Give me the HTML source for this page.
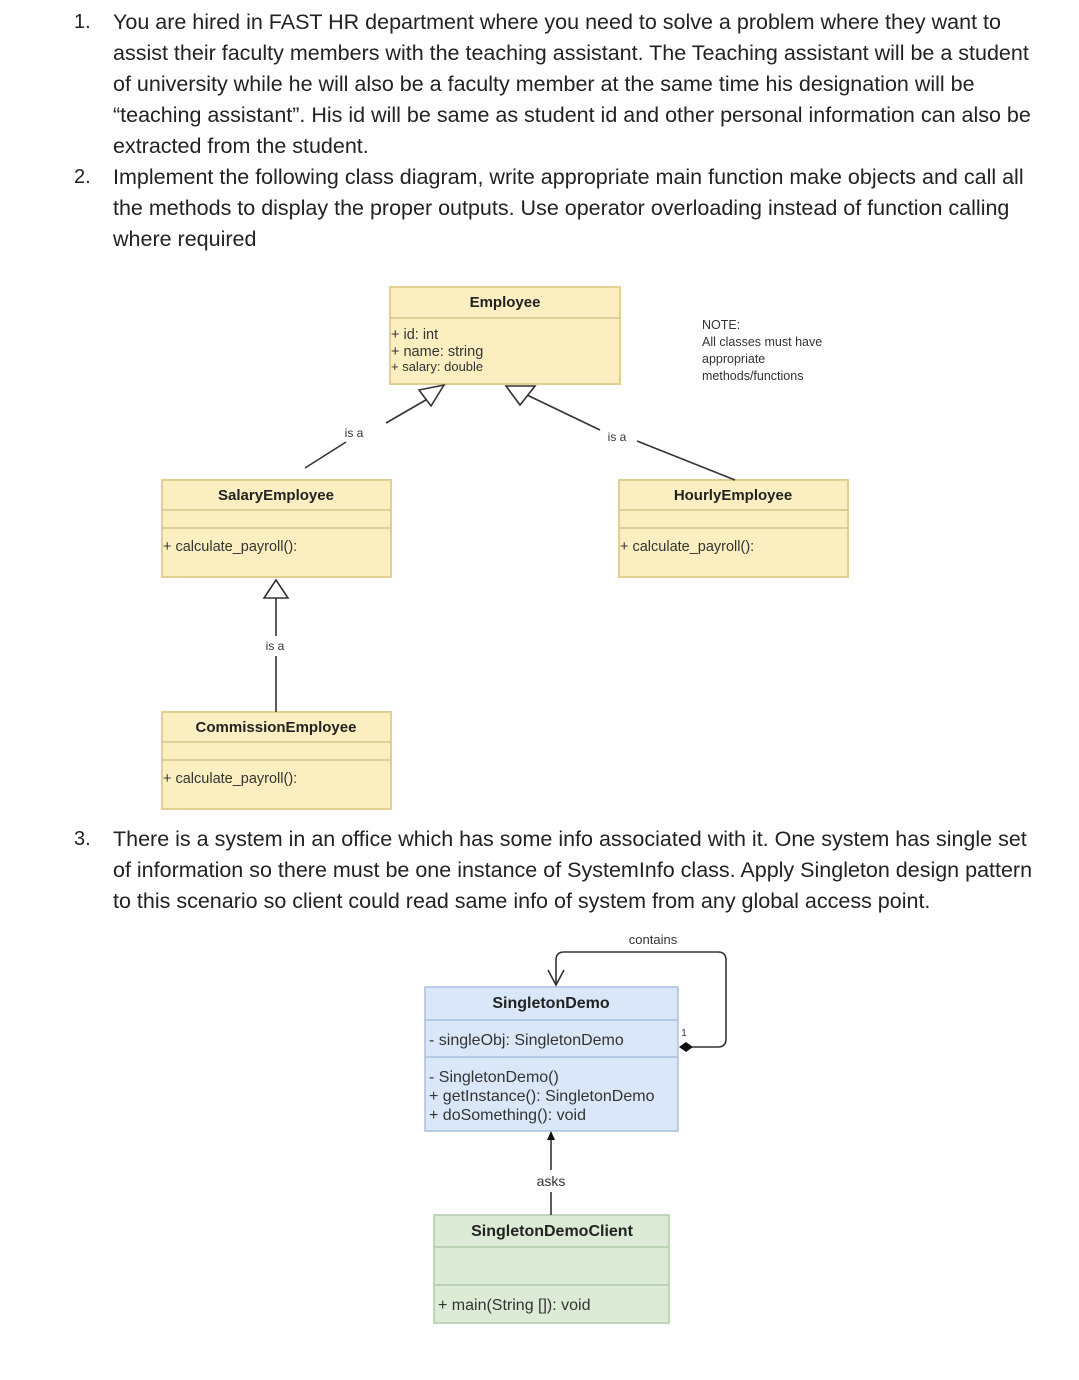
<!DOCTYPE html>
<html><head><meta charset="utf-8"><style>
body{margin:0;width:1079px;height:1380px;background:#fff;position:relative;overflow:hidden;font-family:"Liberation Sans",Arial,sans-serif}
.p{position:absolute;font-family:"Liberation Sans",sans-serif;font-size:21.5px;color:#222;line-height:31px;white-space:nowrap}
.n{position:absolute;font-size:20px;color:#222;line-height:31px}
.t{position:absolute;white-space:nowrap;color:#333}
</style></head><body>
<div class="n" style="left:74px;top:7px">1.</div>
<div class="p" style="left:113px;top:7px">You are hired in FAST HR department where you need to solve a problem where they want to<br>assist their faculty members with the teaching assistant. The Teaching assistant will be a student<br>of university while he will also be a faculty member at the same time his designation will be<br>“teaching assistant”. His id will be same as student id and other personal information can also be<br>extracted from the student.</div>
<div class="n" style="left:74px;top:162px">2.</div>
<div class="p" style="left:113px;top:162px">Implement the following class diagram, write appropriate main function make objects and call all<br>the methods to display the proper outputs. Use operator overloading instead of function calling<br>where required</div>
<div class="n" style="left:74px;top:824px">3.</div>
<div class="p" style="left:113px;top:824px">There is a system in an office which has some info associated with it. One system has single set<br>of information so there must be one instance of SystemInfo class. Apply Singleton design pattern<br>to this scenario so client could read same info of system from any global access point.</div>

<svg width="1079" height="1380" style="position:absolute;left:0;top:0" font-family="Liberation Sans, Arial, sans-serif">
<g fill="#fbeec0" stroke="#e3cf92" stroke-width="2">
<rect x="390" y="287" width="230" height="97"/>
<rect x="162" y="480" width="229" height="97"/>
<rect x="619" y="480" width="229" height="97"/>
<rect x="162" y="712" width="229" height="97"/>
</g>
<g stroke="#d8c48a" stroke-width="1.5">
<line x1="390" y1="318" x2="620" y2="318"/>
<line x1="162" y1="510" x2="391" y2="510"/><line x1="162" y1="528" x2="391" y2="528"/>
<line x1="619" y1="510" x2="848" y2="510"/><line x1="619" y1="528" x2="848" y2="528"/>
<line x1="162" y1="742" x2="391" y2="742"/><line x1="162" y1="760" x2="391" y2="760"/>
</g>
<g font-size="15" fill="#222" font-weight="bold" text-anchor="middle">
<text x="505" y="307">Employee</text>
<text x="276" y="500">SalaryEmployee</text>
<text x="733" y="500">HourlyEmployee</text>
<text x="276" y="732">CommissionEmployee</text>
</g>
<g font-size="14.5" fill="#333">
<text x="391" y="339">+ id: int</text>
<text x="391" y="356">+ name: string</text>
<text x="391" y="371" font-size="13">+ salary: double</text>
<text x="163" y="551">+ calculate_payroll():</text>
<text x="620" y="551">+ calculate_payroll():</text>
<text x="163" y="783">+ calculate_payroll():</text>
</g>
<g font-size="12.5" fill="#333">
<text x="702" y="329">NOTE:</text>
<text x="702" y="346">All classes must have</text>
<text x="702" y="363">appropriate</text>
<text x="702" y="380">methods/functions</text>
</g>
<g stroke="#333" stroke-width="1.6" fill="#fff">
<line x1="431" y1="397" x2="386" y2="423"/>
<line x1="346" y1="442" x2="305" y2="468"/>
<polygon points="444,385 419,390 431,406"/>
<line x1="527" y1="395" x2="600" y2="430"/>
<line x1="637" y1="441" x2="735" y2="480"/>
<polygon points="506,386 535,386 520,405"/>
<line x1="276" y1="598" x2="276" y2="636"/>
<line x1="276" y1="656" x2="276" y2="712"/>
<polygon points="276,580 264,598 288,598"/>
</g>
<g font-size="12" fill="#333" text-anchor="middle">
<text x="354" y="437">is a</text>
<text x="617" y="441">is a</text>
<text x="275" y="650">is a</text>
</g>
<rect x="425" y="987" width="253" height="144" fill="#dae7f8" stroke="#a8c0e0" stroke-width="1.5"/>
<line x1="425" y1="1020" x2="678" y2="1020" stroke="#a8c0e0" stroke-width="1.5"/>
<line x1="425" y1="1057" x2="678" y2="1057" stroke="#a8c0e0" stroke-width="1.5"/>
<rect x="434" y="1215" width="235" height="108" fill="#dcebd6" stroke="#b0ccaa" stroke-width="1.5"/>
<line x1="434" y1="1247" x2="669" y2="1247" stroke="#b0ccaa" stroke-width="1.5"/>
<line x1="434" y1="1285" x2="669" y2="1285" stroke="#b0ccaa" stroke-width="1.5"/>
<g font-size="16" fill="#222" font-weight="bold" text-anchor="middle">
<text x="551" y="1008">SingletonDemo</text>
<text x="552" y="1236">SingletonDemoClient</text>
</g>
<g font-size="16" fill="#333">
<text x="429" y="1045">- singleObj: SingletonDemo</text>
<text x="429" y="1082">- SingletonDemo()</text>
<text x="429" y="1101">+ getInstance(): SingletonDemo</text>
<text x="429" y="1120">+ doSomething(): void</text>
<text x="438" y="1310">+ main(String []): void</text>
</g>
<g fill="none" stroke="#333" stroke-width="1.6">
<path d="M692,1047 H718 Q726,1047 726,1039 V960 Q726,952 718,952 H564 Q556,952 556,960 V985"/>
<path d="M548,970 L556,985 L564,970"/>
<line x1="551" y1="1138" x2="551" y2="1170"/>
<line x1="551" y1="1192" x2="551" y2="1215"/>
</g>
<polygon points="679,1047 686,1042 693,1047 686,1052" fill="#111"/>
<polygon points="551,1131 547,1140 555,1140" fill="#111"/>
<g font-size="13" fill="#333" text-anchor="middle">
<text x="653" y="944">contains</text>
<text x="551" y="1186" font-size="14">asks</text>
<text x="684" y="1036" font-size="10">1</text>
</g>
</svg>
</body></html>
